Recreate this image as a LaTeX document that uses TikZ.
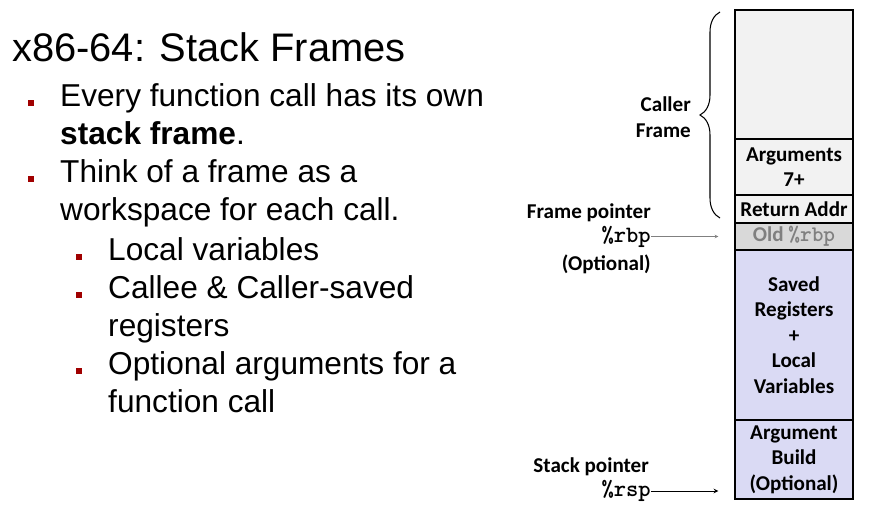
\documentclass[tikz,border=0pt]{standalone}
\usepackage{fontspec}
\setmainfont{Liberation Sans}
\newfontfamily\calibfont{Carlito}
\newfontfamily\regfont{lmmonolt10-bold}[Extension=.otf]
\usetikzlibrary{positioning,decorations.pathreplacing,arrows}
\definecolor{bulletred}{RGB}{160,0,0}
\definecolor{callergray}{RGB}{242,242,242}
\definecolor{oldgray}{RGB}{217,217,217}
\definecolor{oldtext}{RGB}{128,128,128}
\definecolor{framelav}{RGB}{218,218,244}
\tikzstyle{slot} = [rectangle, draw=black, line width=1.1pt, outer sep=0pt, inner sep=0pt, minimum width=3.54cm, align=center, font=\calibfont\bfseries\fontsize{18}{21.7}\selectfont]
\tikzstyle{lbl} = [inner sep=0pt, font=\calibfont\bfseries\fontsize{18}{21.7}\selectfont]
\tikzstyle{reg} = [inner sep=0pt, font=\regfont\fontsize{20}{22}\selectfont]
\tikzstyle{line} = [anchor=base west, inner sep=0pt, font=\fontsize{27}{32}\selectfont]
\tikzstyle{bul} = [rectangle, fill=bulletred, inner sep=0pt, minimum size=0.2cm]
\tikzstyle{arrow} = [->,>=stealth]

\begin{document}
\begin{tikzpicture}[x=0.03cm, y=-0.03cm]
    \useasboundingbox (0,0) rectangle (873,511);
    % title and bullets
    \node (title)[anchor=base west, inner sep=0pt, font=\fontsize{34}{40}\selectfont] at (12,62) {x86-64: Stack Frames};
    \node (l1)[line] at (60,107) {Every function call has its own};
    \node (l2)[line] at (60,145) {\textbf{stack frame}.};
    \node (l3)[line] at (60,183) {Think of a frame as a};
    \node (l4)[line] at (60,221) {workspace for each call.};
    \node (l5)[line] at (108,260) {Local variables};
    \node (l6)[line] at (108,298) {Callee \& Caller-saved};
    \node (l7)[line] at (108,336) {registers};
    \node (l8)[line] at (108,374) {Optional arguments for a};
    \node (l9)[line] at (108,412) {function call};
    \node (b1)[bul] at (31,103) {};
    \node (b3)[bul] at (31,179) {};
    \node (b5)[bul] at (79,257) {};
    \node (b6)[bul] at (79,295) {};
    \node (b8)[bul] at (79,371) {};

    % the stack
    \node (caller)[slot, fill=callergray, minimum height=3.87cm, anchor=north] at (794,10) {};
    \node (args)[slot, fill=callergray, minimum height=1.68cm, below=0pt of caller] {Arguments\\7+};
    \node (ret)[slot, fill=callergray, minimum height=0.84cm, below=0pt of args] {Return Addr};
    \node (old)[slot, fill=oldgray, text=oldtext, minimum height=0.81cm, below=0pt of ret] {Old {\regfont\fontsize{19}{21}\selectfont\%rbp}};
    \node (saved)[slot, fill=framelav, minimum height=5.1cm, below=0pt of old] {Saved\\Registers\\+\\Local\\Variables};
    \node (argb)[slot, fill=framelav, minimum height=2.37cm, below=0pt of saved] {Argument\\Build\\(Optional)};

    % caller frame brace
    \draw[line width=0.9pt, decorate, decoration={brace, amplitude=0.6cm}] ([xshift=-0.45cm, yshift=0.15cm]ret.south west) -- ([xshift=-0.45cm, yshift=-0.06cm]caller.north west);
    \node (callerlbl)[lbl, align=right, anchor=east] at (691,117) {Caller\\Frame};

    % pointers
    \node (rbp)[reg, left=2.52cm of old] {\%rbp};
    \node (fplbl)[lbl, anchor=south east] at ([yshift=0.12cm]rbp.north east) {Frame pointer};
    \node (optlbl)[lbl, anchor=north east] at ([yshift=-0.22cm]rbp.south east) {(Optional)};
    \node (rsp)[reg, anchor=east] at (651,491) {\%rsp};
    \node (splbl)[lbl, anchor=south east] at ([xshift=-0.06cm, yshift=0.12cm]rsp.north east) {Stack pointer};
    \draw[arrow, oldtext, shorten >=0.5cm] (rbp.east) -- (old.west);
    \draw[arrow, line width=0.8pt, shorten >=0.5cm] (rsp.east) -- (rsp.east -| argb.west);

  \end{tikzpicture}
\end{document}
